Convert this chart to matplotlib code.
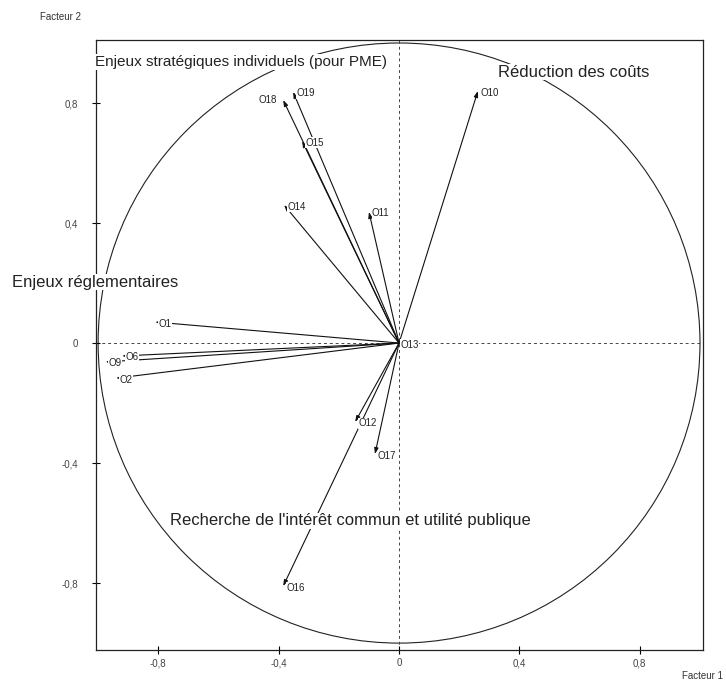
import numpy as np
import matplotlib
matplotlib.use("Agg")
import matplotlib.pyplot as plt
from matplotlib.patches import Circle

plt.rcParams['font.family'] = ['Liberation Sans', 'DejaVu Sans']

# variables (factor 1, factor 2 coordinates)
names = ["O1", "O2", "O6", "O9", "O10", "O11", "O12", "O13", "O14",
         "O15", "O16", "O17", "O18", "O19"]
f1 = [-0.81, -0.94, -0.92, -0.975, 0.262, -0.10, -0.146, -0.005, -0.382,
      -0.322, -0.385, -0.08, -0.385, -0.352]
f2 = [0.07, -0.117, -0.043, -0.063, 0.84, 0.437, -0.263, 0.0, 0.46,
      0.673, -0.81, -0.37, 0.81, 0.837]
label_left = ["O18"]

groups = ["Enjeux stratégiques individuels (pour PME)", "Réduction des coûts",
          "Enjeux réglementaires",
          "Recherche de l'intérêt commun et utilité publique"]
group_x = [-1.01, 0.33, -1.285, -0.76]
group_y = [0.937, 0.903, 0.203, -0.593]
group_size = [11, 12, 12, 12]

ticks = [-0.8, -0.4, 0, 0.4, 0.8]
tick_labels = ["-0,8", "-0,4", "0", "0,4", "0,8"]

fig = plt.figure(figsize=(7.26, 6.84), dpi=100)
ax = fig.add_axes([96 / 726, 34 / 684, 607 / 726, 610 / 684])
ax.set_xlim(-1.007, 1.01)
ax.set_ylim(-1.023, 1.01)

ax.add_patch(Circle((0, 0), 1, fill=False, lw=0.8, color='#222222'))
ax.axhline(0, ls=(0, (3, 3)), lw=0.7, color='#444444', zorder=1)
ax.axvline(0, ls=(0, (3, 3)), lw=0.7, color='#444444', zorder=1)

for n, x, y in zip(names, f1, f2):
    ax.annotate("", xy=(x, y), xytext=(0, 0),
                arrowprops=dict(arrowstyle='-|>,head_length=0.35,head_width=0.12',
                                lw=0.8, color='#111111', shrinkA=0, shrinkB=0),
                zorder=2)
    if n in label_left:
        ax.text(x - 0.02, y, n, ha='right', va='center', fontsize=7,
                color='#222222', zorder=3)
    else:
        ax.text(x + 0.01, y - 0.005, n, ha='left', va='center', fontsize=7,
                color='#222222', zorder=3,
                bbox=dict(facecolor='white', edgecolor='none', pad=0.3))

for g, x, y, s in zip(groups, group_x, group_y, group_size):
    ax.text(x, y, g, ha='left', va='center', fontsize=s, color='#222222',
            clip_on=False, zorder=4,
            bbox=dict(facecolor='white', edgecolor='none', pad=0.5))

ax.set_xticks(ticks)
ax.set_xticklabels(tick_labels)
ax.set_yticks(ticks)
ax.set_yticklabels(tick_labels)
ax.tick_params(direction='inout', length=6, width=0.8, labelsize=7,
               labelcolor='#444444')
ax.tick_params(axis='x', pad=3)
ax.tick_params(axis='y', pad=10)
for s in ax.spines.values():
    s.set_linewidth(0.9)
    s.set_color('#222222')

fig.text(60 / 726, 1 - 17 / 684, "Facteur 2", ha='center', va='center',
         fontsize=7, color='#333333')
fig.text(703 / 726, 8 / 684, "Facteur 1", ha='center', va='center',
         fontsize=7, color='#333333')

fig.savefig("out.png", dpi=100)
